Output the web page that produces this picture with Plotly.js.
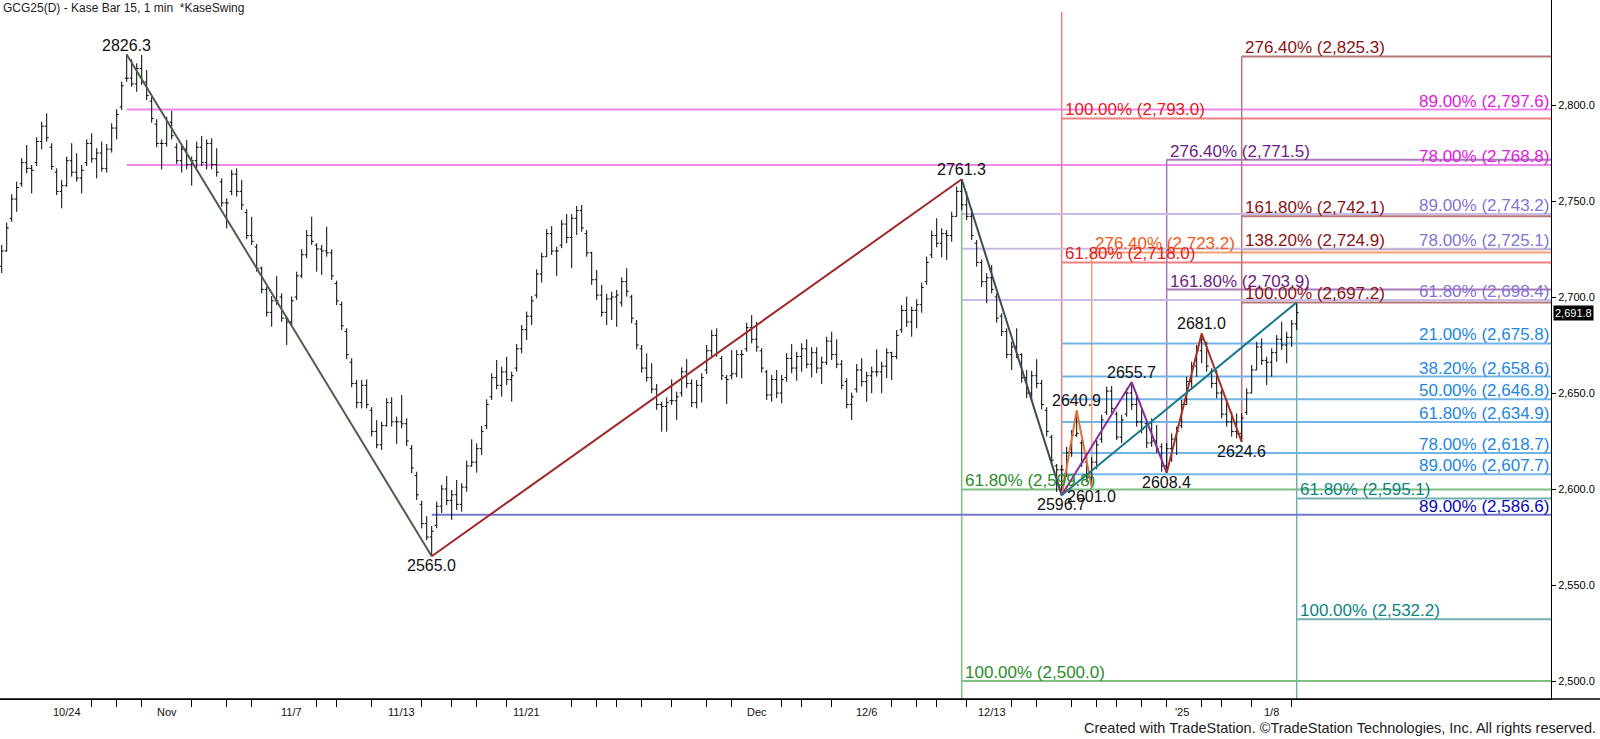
<!DOCTYPE html>
<html>
<head>
<meta charset="utf-8">
<script src="https://cdn.plot.ly/plotly-3.0.1.min.js"></script>
<style>html,body{margin:0;padding:0;background:#fff;}#chart{width:1600px;height:739px;}</style>
</head>
<body>
<div id="chart"></div>
<script>
// ---------------- DATA ----------------
const barHigh = [
2727.1,2738.7,2753.5,2760.1,2772.3,2779.2,2768.8,2783.2,2791.3,2795.7,
2780.1,2767.0,2760.9,2773.1,2780.1,2774.9,2768.8,2782.1,2785.3,2777.5,
2780.9,2779.7,2790.5,2797.8,2812.1,2826.3,2823.8,2821.7,2826.1,2818.2,
2804.3,2792.6,2782.1,2793.9,2797.0,2780.1,2779.2,2781.8,2773.1,2780.9,
2783.9,2782.1,2782.7,2777.5,2761.8,2751.4,2766.2,2767.0,2760.9,2745.7,
2741.8,2727.6,2715.8,2705.4,2700.5,2710.9,2701.9,2689.8,2700.2,2713.2,
2724.9,2734.9,2741.8,2728.0,2727.1,2736.6,2724.9,2708.5,2697.6,2683.7,
2668.1,2656.8,2656.8,2657.1,2642.6,2635.9,2635.1,2647.3,2647.8,2637.7,
2649.0,2636.8,2622.9,2609.0,2593.9,2585.9,2580.7,2593.4,2602.1,2606.8,
2599.5,2604.7,2603.0,2614.8,2625.9,2623.8,2632.8,2646.7,2660.3,2667.2,
2663.7,2668.9,2661.1,2675.5,2685.4,2692.4,2700.5,2714.4,2723.1,2735.3,
2737.0,2726.2,2740.1,2743.2,2743.2,2747.4,2747.9,2734.9,2723.6,2714.1,
2706.3,2701.6,2702.8,2703.7,2710.3,2715.0,2701.1,2688.0,2675.0,2670.7,
2665.5,2654.7,2645.5,2647.8,2657.1,2650.7,2663.4,2667.6,2657.1,2656.8,
2660.3,2675.0,2682.8,2683.7,2669.3,2659.4,2672.4,2672.4,2672.4,2686.6,
2690.6,2687.1,2673.3,2662.0,2659.4,2662.0,2659.4,2670.7,2675.5,2671.5,
2675.9,2678.0,2673.8,2673.8,2668.9,2679.3,2681.9,2678.0,2667.2,2657.7,
2650.2,2665.1,2668.1,2661.1,2663.7,2672.8,2666.3,2673.3,2671.5,2682.8,
2695.8,2700.2,2695.0,2698.8,2707.5,2721.0,2734.5,2741.0,2735.8,2734.9,
2744.4,2757.5,2761.3,2754.9,2746.2,2729.7,2719.6,2712.4,2716.7,2701.9,
2691.5,2683.7,2676.7,2683.7,2670.7,2662.0,2661.6,2667.6,2656.8,2642.6,
2628.1,2613.0,2612.5,2621.9,2630.7,2640.9,2625.5,2618.8,2616.7,2625.5,
2638.6,2653.3,2653.7,2640.3,2638.6,2652.5,2655.7,2648.4,2642.0,2635.9,
2636.8,2633.3,2623.8,2624.0,2629.0,2632.5,2646.4,2658.5,2666.3,2675.0,
2681.0,2676.7,2662.9,2662.0,2651.6,2646.4,2640.3,2639.4,2639.4,2652.5,
2664.6,2676.7,2678.5,2668.9,2673.3,2680.2,2687.1,2681.9,2688.0,2697.2];

const barLow = [
2712.5,2723.6,2739.2,2744.4,2757.5,2764.4,2754.0,2768.2,2776.9,2780.9,
2766.2,2753.1,2746.2,2757.5,2762.7,2760.1,2754.0,2768.2,2770.0,2761.8,
2765.3,2764.8,2775.2,2782.1,2797.4,2812.1,2809.5,2806.9,2810.4,2802.6,
2790.8,2778.0,2766.5,2778.3,2782.1,2769.3,2764.8,2766.5,2758.0,2767.0,
2768.2,2766.5,2766.5,2762.7,2747.0,2735.8,2753.1,2752.3,2745.3,2730.1,
2727.1,2713.2,2701.9,2689.8,2684.5,2695.8,2687.1,2675.0,2685.4,2698.4,
2709.8,2720.2,2727.1,2713.2,2711.5,2721.0,2708.9,2695.8,2682.8,2667.6,
2653.0,2642.0,2642.0,2642.0,2627.3,2621.2,2620.3,2632.5,2632.5,2623.4,
2631.6,2622.4,2608.2,2594.3,2579.5,2573.4,2565.0,2579.5,2587.5,2591.7,
2583.9,2589.1,2588.2,2598.6,2611.6,2608.5,2617.7,2631.1,2646.4,2651.9,
2648.1,2654.2,2645.5,2661.1,2670.7,2677.6,2685.4,2699.3,2707.5,2721.0,
2721.9,2710.9,2725.4,2728.0,2715.0,2732.3,2734.0,2721.0,2706.3,2698.4,
2689.8,2685.4,2688.0,2684.5,2695.0,2700.2,2686.3,2672.8,2660.6,2655.9,
2649.9,2641.2,2629.9,2629.9,2643.8,2635.9,2648.1,2652.5,2642.6,2642.0,
2645.0,2659.9,2668.1,2668.9,2656.8,2644.3,2657.1,2658.2,2657.7,2671.5,
2675.9,2671.5,2660.6,2646.4,2645.5,2647.3,2644.6,2655.9,2660.3,2656.4,
2661.1,2662.9,2658.2,2660.3,2654.7,2664.6,2667.2,2662.9,2651.9,2642.0,
2635.9,2650.2,2653.3,2645.5,2649.9,2658.5,2649.9,2657.7,2656.8,2667.6,
2681.4,2684.5,2679.3,2683.7,2691.8,2706.3,2720.2,2725.9,2720.7,2719.3,
2728.8,2741.8,2745.3,2740.1,2729.7,2715.8,2705.1,2696.7,2701.9,2686.6,
2679.7,2668.1,2662.0,2668.1,2655.4,2647.3,2646.4,2652.5,2641.5,2627.3,
2612.5,2598.5,2596.7,2606.3,2616.7,2627.1,2611.5,2603.7,2601.0,2610.4,
2624.0,2638.6,2639.6,2625.5,2623.8,2637.7,2641.2,2632.5,2629.0,2621.2,
2622.0,2618.8,2609.0,2608.4,2614.2,2617.7,2631.6,2643.8,2651.6,2658.5,
2665.5,2661.1,2652.5,2647.3,2636.8,2632.5,2627.3,2626.4,2624.6,2638.6,
2649.9,2662.0,2664.6,2654.2,2658.5,2666.3,2672.4,2665.5,2674.0,2682.8];

const barOpen = [
2716,2724,2741,2751,2759,2770,2767,2770,2781,2789,
2778,2765,2755,2758,2771,2765,2762,2770,2780,2772,
2775,2767,2777,2788,2799,2814,2814,2811,2819,2812,
2802,2790,2780,2780,2791,2778,2771,2777,2769,2771,
2778,2770,2780,2769,2760,2749,2755,2764,2755,2744,
2732,2726,2715,2704,2692,2698,2700,2689,2687,2700,
2711,2722,2732,2727,2725,2724,2723,2707,2696,2682,
2666,2655,2645,2654,2641,2630,2623,2633,2645,2635,
2635,2634,2621,2607,2592,2582,2575,2581,2591,2600,
2594,2597,2592,2601,2612,2614,2621,2633,2648,2658,
2654,2661,2657,2663,2673,2683,2690,2701,2712,2721,
2733,2724,2727,2738,2731,2741,2745,2733,2723,2709,
2701,2692,2699,2700,2697,2708,2700,2686,2673,2663,
2658,2652,2644,2643,2646,2646,2650,2661,2655,2645,
2654,2662,2672,2680,2668,2658,2659,2660,2670,2673,
2684,2678,2672,2661,2649,2657,2650,2658,2668,2663,
2669,2673,2665,2671,2663,2666,2677,2670,2665,2656,
2644,2652,2662,2656,2659,2661,2661,2664,2671,2669,
2683,2693,2687,2693,2696,2708,2722,2732,2728,2733,
2732,2742,2755,2748,2742,2728,2718,2708,2710,2700,
2690,2682,2670,2674,2670,2658,2650,2659,2655,2641,
2627,2612,2610,2608,2619,2628,2624,2614,2606,2614,
2626,2640,2651,2639,2627,2639,2650,2644,2635,2634,
2624,2625,2622,2612,2621,2626,2633,2644,2656,2664,
2672,2675,2661,2655,2650,2639,2635,2630,2629,2640,
2650,2662,2674,2667,2666,2671,2678,2675,2679,2686];

const barClose = [
2724,2736,2751,2757,2770,2767,2766,2781,2789,2783,
2768,2755,2758,2771,2765,2762,2766,2780,2772,2775,
2767,2777,2788,2795,2810,2814,2811,2819,2812,2805,
2793,2780,2780,2791,2784,2771,2777,2769,2771,2778,
2770,2780,2769,2765,2749,2749,2764,2755,2748,2732,
2729,2715,2704,2692,2698,2698,2689,2687,2698,2711,
2722,2732,2729,2725,2724,2723,2711,2698,2685,2670,
2655,2645,2654,2644,2630,2623,2633,2645,2635,2635,
2634,2625,2611,2597,2582,2575,2578,2591,2600,2594,
2597,2592,2601,2612,2614,2621,2630,2644,2658,2654,
2661,2657,2659,2673,2683,2690,2698,2712,2721,2733,
2724,2724,2738,2731,2741,2745,2736,2723,2709,2701,
2692,2699,2700,2701,2708,2703,2689,2675,2663,2658,
2652,2644,2643,2645,2646,2648,2661,2655,2645,2654,
2658,2672,2680,2671,2659,2657,2660,2670,2670,2684,
2678,2674,2663,2649,2657,2650,2657,2668,2663,2669,
2673,2665,2671,2663,2666,2677,2670,2665,2654,2644,
2648,2662,2656,2659,2661,2661,2664,2671,2669,2680,
2693,2687,2693,2696,2705,2718,2732,2728,2733,2732,
2742,2755,2748,2742,2732,2718,2708,2710,2704,2689,
2682,2670,2674,2670,2658,2650,2659,2655,2644,2630,
2615,2610,2610,2619,2628,2629,2614,2606,2614,2623,
2636,2651,2642,2627,2636,2650,2644,2635,2631,2624,
2625,2621,2612,2621,2626,2630,2644,2656,2664,2672,
2678,2664,2655,2650,2639,2635,2630,2629,2637,2650,
2662,2674,2667,2666,2671,2678,2675,2679,2686,2691.8];

// date axis: day separators (bar numbers) and day labels
const daySepBars = [18,23,28,38,45,50,63,67,74,84,90,95,101,114,119,123,128,134,141,146,156,160,166,178,183,187,193,202,207,214,219,223,228,233,240,244,250,258];
const dayLabelBars = [13,33,58,80,105,151,173,198,236,254];
const dayLabels = ['10/24','Nov','11/7','11/13','11/21','Dec','12/6','12/13',"'25",'1/8'];

// swing points
const swingBars = [25,86,192,212,215,218,226,233,240,248];
const swingPrices = [2826.3,2565.0,2761.3,2596.7,2640.9,2601.0,2655.7,2608.4,2681.0,2624.6];
const swingIsHigh = [true,false,true,false,true,false,true,false,true,false];

// swing legs (bar numbers / prices)
const legBars = [[25,86],[86,192],[192,212],[212,215,218],[212,226,233],[233,240,248],[212,259]];
const legPrices = [[2826.3,2565.0],[2565.0,2761.3],[2761.3,2596.7],[2596.7,2640.9,2601.0],[2596.7,2655.7,2608.4],[2608.4,2681.0,2624.6],[2596.7,2697.2]];

// fibonacci level sets
const magentaPct = [89.00,78.00];            const magentaPx = [2797.6,2768.8];
const redPct = [100.00,61.80];               const redPx = [2793.0,2718.0];
const orangePct = [276.40];                  const orangePx = [2723.2];
const purplePct = [276.40,161.80];           const purplePx = [2771.5,2703.9];
const brownPct = [276.40,161.80,138.20,100.00]; const brownPx = [2825.3,2742.1,2724.9,2697.2];
const lavenderPct = [89.00,78.00,61.80];     const lavenderPx = [2743.2,2725.1,2698.4];
const bluePct = [21.00,38.20,50.00,61.80,78.00,89.00]; const bluePx = [2675.8,2658.6,2646.8,2634.9,2618.7,2607.7];
const greenPct = [61.80,100.00];             const greenPx = [2599.8,2500.0];
const tealPct = [61.80,100.00];              const tealPx = [2595.1,2532.2];
const navyPct = [89.00];                     const navyPx = [2586.6];

const yTicks = [2500,2550,2600,2650,2700,2750,2800];
const lastPrice = 2691.8;

// ---------------- LAYOUT / STYLE ----------------
const X_MIN = -0.34, X_MAX = 309.86, Y_MIN = 2490.63, Y_MAX = 2854.69;
const FONT = 'Liberation Sans, Arial, sans-serif';

const fibSets = [
  {pct: magentaPct, px: magentaPx, start: 25,  vert: null, line: '#ee88ee', text: '#e020e0', align: 'right'},
  {pct: redPct,     px: redPx,     start: 212, vert: [2596.7, 2848.4], line: '#f08080', text: '#e81818', align: 'left'},
  {pct: orangePct,  px: orangePx,  start: 218, vert: [2601.0, 2723.2], line: '#f4a070', text: '#f05a14', align: 'left'},
  {pct: purplePct,  px: purplePx,  start: 233, vert: [2608.4, 2771.5], line: '#a878b8', text: '#6e1e80', align: 'left'},
  {pct: brownPct,   px: brownPx,   start: 248, vert: [2624.6, 2825.3], line: '#b47878', text: '#8a1414', align: 'left'},
  {pct: lavenderPct,px: lavenderPx,start: 192, vert: null, line: '#c8bce6', text: '#8474d4', align: 'right'},
  {pct: bluePct,    px: bluePx,    start: 212, vert: null, line: '#70b4e6', text: '#1f86e0', align: 'right'},
  {pct: greenPct,   px: greenPx,   start: 192, vert: [Y_MIN, 2761.3], line: '#7fbf7f', text: '#2a8c2a', align: 'left'},
  {pct: tealPct,    px: tealPx,    start: 259, vert: [Y_MIN, 2697.2], line: '#72b0b0', text: '#0c8282', align: 'left'},
  {pct: navyPct,    px: navyPx,    start: 86,  vert: null, line: '#7474d0', text: '#0a0ab4', align: 'right'}
];
const legColors = ['#4e5e4e','#a02828','#3e4c5a','#e0703a','#8a2f9a','#a83020','#1a7a8c'];

function fmtPrice(v){ return v.toLocaleString('en-US',{minimumFractionDigits:1,maximumFractionDigits:1}); }

const idx = barHigh.map((_, i) => i);
const traces = [{
  type: 'ohlc', x: idx, open: barOpen, high: barHigh, low: barLow, close: barClose,
  increasing: {line: {color: '#000', width: 1}},
  decreasing: {line: {color: '#000', width: 1}},
  tickwidth: 0.4, hoverinfo: 'skip', showlegend: false
}];
legBars.forEach((b, k) => {
  traces.push({type: 'scatter', mode: 'lines', x: b, y: legPrices[k],
    line: {color: legColors[k], width: 2}, hoverinfo: 'skip', showlegend: false});
});

const shapes = [];
const annotations = [];
fibSets.forEach(s => {
  if (s.vert) {
    shapes.push({type: 'line', xref: 'x', yref: 'y', x0: s.start, x1: s.start, y0: s.vert[0], y1: s.vert[1],
      line: {color: s.line, width: 1.5}, layer: 'below'});
  }
  s.px.forEach((p, k) => {
    shapes.push({type: 'line', xref: 'x', yref: 'y', x0: s.start, x1: X_MAX, y0: p, y1: p,
      line: {color: s.line, width: 2}, layer: 'below'});
    const txt = s.pct[k].toFixed(2) + '% (' + fmtPrice(p) + ')';
    if (s.align === 'left') {
      annotations.push({x: s.start, y: p, xref: 'x', yref: 'y', xanchor: 'left', yanchor: 'bottom',
        xshift: 1, yshift: -3, text: txt, showarrow: false, font: {family: FONT, size: 17, color: s.text}});
    } else {
      annotations.push({x: X_MAX, y: p, xref: 'x', yref: 'y', xanchor: 'right', yanchor: 'bottom',
        xshift: 0, yshift: -3, text: txt, showarrow: false, font: {family: FONT, size: 17, color: s.text}});
    }
  });
});

swingBars.forEach((b, k) => {
  annotations.push({x: b, y: swingPrices[k], xref: 'x', yref: 'y', xanchor: 'center',
    yanchor: swingIsHigh[k] ? 'bottom' : 'top', yshift: swingIsHigh[k] ? -1 : 1,
    text: swingPrices[k].toFixed(1), showarrow: false, font: {family: FONT, size: 16, color: '#111'}});
});

dayLabelBars.forEach((b, k) => {
  annotations.push({x: b, y: 0, xref: 'x', yref: 'paper', xanchor: 'center', yanchor: 'middle',
    yshift: -13, text: dayLabels[k], showarrow: false, font: {family: FONT, size: 11, color: '#111'}});
});

annotations.push({x: 1, y: lastPrice, xref: 'paper', yref: 'y', xanchor: 'left', yanchor: 'middle',
  xshift: 2, text: fmtPrice(lastPrice), showarrow: false, bgcolor: '#000', borderpad: 1,
  font: {family: FONT, size: 11, color: '#fff'}});

annotations.push({x: 0, y: 1, xref: 'paper', yref: 'paper', xanchor: 'left', yanchor: 'top',
  xshift: 1, yshift: 1, text: 'GCG25(D) - Kase Bar 15, 1 min  *KaseSwing', showarrow: false,
  font: {family: FONT, size: 12, color: '#222'}});

annotations.push({x: 1 + 49/1551, y: 0, xref: 'paper', yref: 'paper', xanchor: 'right', yanchor: 'middle',
  yshift: -29, xshift: -2, text: 'Created with TradeStation. ©TradeStation Technologies, Inc. All rights reserved.',
  showarrow: false, font: {family: FONT, size: 14.5, color: '#222'}});

// full-width baseline of the time axis
shapes.push({type: 'line', xref: 'paper', yref: 'paper', x0: 0, x1: 1 + 49/1551, y0: 0, y1: 0,
  line: {color: '#000', width: 1.5}});

const layout = {
  width: 1600, height: 739,
  margin: {l: 0, r: 49, t: 0, b: 40},
  paper_bgcolor: '#fff', plot_bgcolor: '#fff',
  showlegend: false,
  xaxis: {
    range: [X_MIN, X_MAX], rangeslider: {visible: false},
    tickvals: daySepBars, ticktext: daySepBars.map(() => ''),
    ticks: 'outside', ticklen: 7, tickcolor: '#000', tickwidth: 1,
    showgrid: false, zeroline: false, showline: true, linecolor: '#000', linewidth: 1,
    fixedrange: true
  },
  yaxis: {
    range: [Y_MIN, Y_MAX], side: 'right',
    tickvals: yTicks, tickformat: ',.1f',
    ticks: 'outside', ticklen: 4, tickcolor: '#000',
    tickfont: {family: FONT, size: 11, color: '#000'},
    showgrid: false, zeroline: false, showline: true, linecolor: '#000', linewidth: 1,
    fixedrange: true
  },
  shapes: shapes,
  annotations: annotations,
  hovermode: false
};

Plotly.newPlot('chart', traces, layout, {displayModeBar: false, staticPlot: true});
</script>
</body>
</html>
